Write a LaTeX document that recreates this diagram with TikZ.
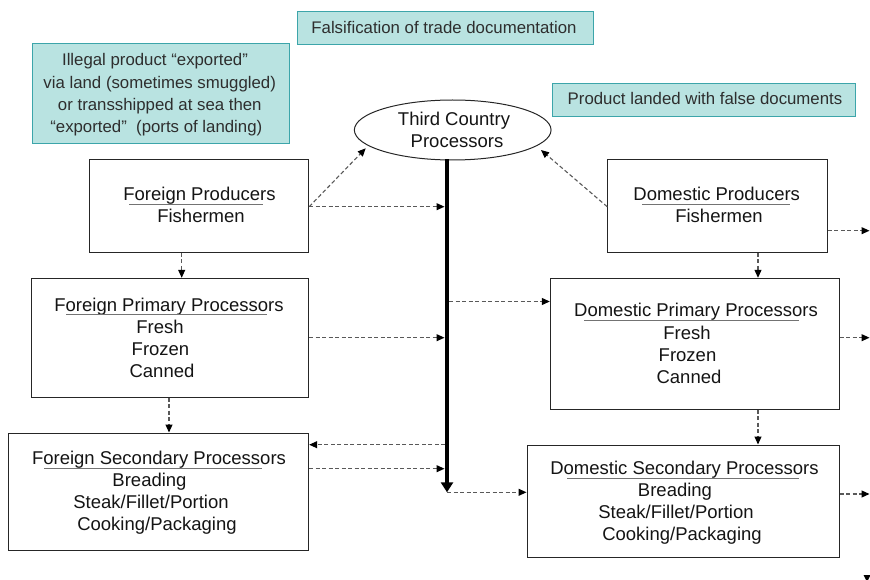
\documentclass[tikz,border=0pt]{standalone}
\usepackage{fontspec}
\setmainfont{Liberation Sans}
\usetikzlibrary{arrows.meta,fit,shapes.geometric}
\definecolor{tealfill}{RGB}{185,227,225}
\definecolor{tealline}{RGB}{60,165,170}
\begin{document}
\begin{tikzpicture}[x=1pt,y=-1pt,
  box/.style={draw=black!85, line width=1pt, inner sep=0pt},
  tealbox/.style={draw=tealline, fill=tealfill, line width=1pt, inner sep=0pt},
  txt/.style={anchor=base, font=\fontsize{18.5}{22}\selectfont, inner sep=0pt, text=black!92},
  ttxt/.style={anchor=base, font=\fontsize{16.8}{22}\selectfont, inner sep=0pt, text=black!82},
  ul/.style={draw=black!55, line width=1pt},
  dar/.style={draw=black!65, dash pattern=on 4pt off 2.5pt, line width=1.1pt,
    -{Triangle[length=8pt,width=7pt,color=black]}},
  thick arrow/.style={draw=black, line width=4pt, -{Triangle[length=10pt,width=12pt]}}
]
\useasboundingbox (0,0) rectangle (870,580);

% teal boxes
\node[tealbox, fit={(297.3,11.7)(593.3,44.3)}] (fals) {};
\node[ttxt] (falst) at (444,33.3) {Falsification of trade documentation};
\node[tealbox, fit={(32.3,43.3)(289.3,144)}] (ill) {};
\node[ttxt] (ill1) at (155,66) {Illegal product “exported”};
\node[ttxt] (ill2) at (159.7,88.3) {via land (sometimes smuggled)};
\node[ttxt] (ill3) at (159.8,110.3) {or transshipped at sea then};
\node[ttxt] (ill4) at (156.3,132.3) {“exported”~ (ports of landing)};
\node[tealbox, fit={(552.7,83.7)(855.7,116.7)}] (land) {};
\node[ttxt] (landt) at (705,105) {Product landed with false documents};

% third country ellipse
\node[draw=black!85, line width=1pt, ellipse, minimum width=196.7pt, minimum height=60pt, inner sep=0pt] (tc) at (452.7,130) {};
\node[txt] (tc1) at (454,125.3) {Third Country};
\node[txt] (tc2) at (457,147.3) {Processors};

% foreign side
\node[box, fit={(89,159.3)(308.7,252.3)}] (fp) {};
\node[txt] (fpt) at (199.5,201) {Foreign Producers};
\node[txt] (fp1) at (201,222.7) {Fishermen};
\draw[ul] (129,204.7) -- (263,204.7);

\node[box, fit={(31,278.3)(308.7,397)}] (fpp) {};
\node[txt] (fppt) at (169,311) {Foreign Primary Processors};
\draw[ul] (66,314.3) -- (267,314.3);
\node[txt] (fpp1) at (160,333) {Fresh};
\node[txt] (fpp2) at (160.5,355) {Frozen};
\node[txt] (fpp3) at (162,377) {Canned};

\node[box, fit={(8.3,433)(308.7,550)}] (fsp) {};
\node[txt] (fspt) at (159,464) {Foreign Secondary Processors};
\draw[ul] (44,468.7) -- (262,468.7);
\node[txt] (fsp1) at (149.5,486.7) {Breading};
\node[txt] (fsp2) at (151,508.7) {Steak/Fillet/Portion};
\node[txt] (fsp3) at (157,530.7) {Cooking/Packaging};

% domestic side
\node[box, fit={(607.7,159.3)(827.3,252.3)}] (dp) {};
\node[txt] (dpt) at (716.7,201) {Domestic Producers};
\node[txt] (dp1) at (719,222.7) {Fishermen};
\draw[ul] (642,205) -- (790,205);

\node[box, fit={(550.3,278.3)(839,409)}] (dpp) {};
\node[txt] (dppt) at (696,316.7) {Domestic Primary Processors};
\draw[ul] (584,320.7) -- (799,320.7);
\node[txt] (dpp1) at (687,339) {Fresh};
\node[txt] (dpp2) at (687.5,361) {Frozen};
\node[txt] (dpp3) at (689,383) {Canned};

\node[box, fit={(527,445)(839,557.7)}] (dsp) {};
\node[txt] (dspt) at (684.5,474) {Domestic Secondary Processors};
\draw[ul] (567,478.3) -- (799,478.3);
\node[txt] (dsp1) at (675,496) {Breading};
\node[txt] (dsp2) at (676,518.7) {Steak/Fillet/Portion};
\node[txt] (dsp3) at (682,540.7) {Cooking/Packaging};

% trunk
\coordinate (tctop) at (447,159.5);
\coordinate (tcbot) at (447,492.3);
\draw[thick arrow] (tctop) -- (tcbot);

% junction coordinates
\coordinate (j1) at (444.5,206.7);
\coordinate (j2) at (449,301.5);
\coordinate (j3) at (444.5,337.7);
\coordinate (j4) at (445,444.7);
\coordinate (j5) at (444.5,468.7);
\coordinate (tcl) at (365.7,148.3);
\coordinate (tcr) at (541,150);
\coordinate (a1) at (181.7,0);
\coordinate (a2) at (169,0);
\coordinate (a3) at (758,0);
\coordinate (e1) at (869.5,230.7);
\coordinate (e2) at (869.5,337.7);
\coordinate (e3) at (869.5,494);

% connectors
\draw[dar] (fp.east |- j1) -- (tcl);
\draw[dar] (fp.east |- j1) -- (j1);
\draw[dar] (fp.south -| a1) -- (fpp.north -| a1);
\draw[dar] (j2) -- (dpp.west |- j2);
\draw[dar] (fpp.east |- j3) -- (j3);
\draw[dar] (fpp.south -| a2) -- (fsp.north -| a2);
\draw[dar] (j4) -- (fsp.east |- j4);
\draw[dar] (fsp.east |- j5) -- (j5);
\draw[dar] (tcbot) -- (dsp.west |- tcbot);
\draw[dar] (dp.west |- j1) -- (tcr);
\draw[dar] (dp.east |- e1) -- (e1);
\draw[dar] (dp.south -| a3) -- (dpp.north -| a3);
\draw[dar] (dpp.east |- e2) -- (e2);
\draw[dar] (dpp.south -| a3) -- (dsp.north -| a3);
\draw[dar] (dsp.east |- e3) -- (e3);

% cut-off arrow tip at the bottom right
\fill[black] (863.5,575) -- (870.5,575) -- (867,582) -- cycle;
\end{tikzpicture}
\end{document}
